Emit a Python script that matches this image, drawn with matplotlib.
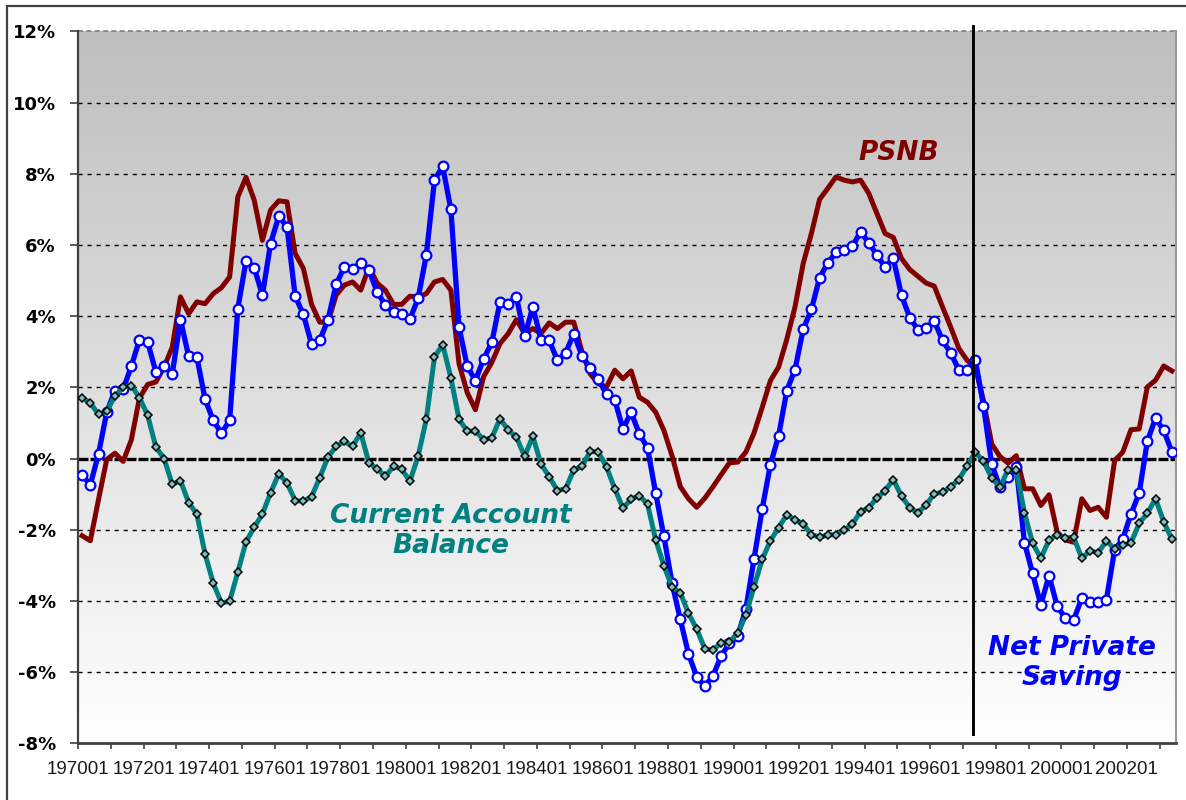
import matplotlib.pyplot as plt
import numpy as np
from matplotlib.patches import Rectangle
from matplotlib.colors import LinearSegmentedColormap

# Quarterly data, 1970Q1 - 2003Q2, % of GDP
psnb = [-2.17, -2.31, -1.15, -0.03, 0.15, -0.08, 0.52, 1.70, 2.08, 2.15,
        2.57, 3.13, 4.54, 4.07, 4.40, 4.35, 4.63, 4.80, 5.10, 7.35,
        7.90, 7.26, 6.13, 6.98, 7.24, 7.21, 5.76, 5.34, 4.33, 3.83,
        3.83, 4.59, 4.87, 4.96, 4.73, 5.38, 4.93, 4.73, 4.33, 4.33,
        4.56, 4.54, 4.63, 4.96, 5.03, 4.73, 2.66, 1.85, 1.37, 2.30,
        2.70, 3.23, 3.51, 3.90, 3.51, 3.65, 3.51, 3.81, 3.65, 3.83,
        3.83, 3.00, 2.38, 2.10, 2.01, 2.48, 2.24, 2.46, 1.72, 1.58,
        1.30, 0.79, 0.07, -0.79, -1.13, -1.37, -1.11, -0.79, -0.45, -0.12,
        -0.10, 0.18, 0.72, 1.44, 2.19, 2.57, 3.35, 4.26, 5.48, 6.32,
        7.28, 7.59, 7.91, 7.82, 7.77, 7.82, 7.45, 6.88, 6.32, 6.21,
        5.62, 5.31, 5.12, 4.93, 4.84, 4.26, 3.69, 3.09, 2.76, 2.57,
        1.62, 0.41, 0.06, -0.13, 0.08, -0.85, -0.85, -1.32, -1.02, -2.07,
        -2.29, -2.35, -1.13, -1.46, -1.37, -1.65, -0.06, 0.18, 0.81, 0.83,
        2.01, 2.20, 2.60, 2.46]

net_private_saving = [-0.46, -0.74, 0.13, 1.30, 1.91, 1.94, 2.59, 3.34, 3.27, 2.43,
                      2.59, 2.38, 3.90, 2.87, 2.85, 1.67, 1.07, 0.71, 1.07, 4.21,
                      5.55, 5.36, 4.59, 6.04, 6.81, 6.51, 4.56, 4.05, 3.21, 3.32,
                      3.90, 4.89, 5.38, 5.32, 5.49, 5.29, 4.68, 4.31, 4.11, 4.05,
                      3.91, 4.50, 5.71, 7.82, 8.21, 7.00, 3.69, 2.59, 2.19, 2.80,
                      3.26, 4.40, 4.35, 4.54, 3.43, 4.26, 3.34, 3.32, 2.76, 2.96,
                      3.51, 2.89, 2.55, 2.22, 1.80, 1.65, 0.83, 1.30, 0.69, 0.30,
                      -0.98, -2.19, -3.51, -4.52, -5.49, -6.13, -6.40, -6.10, -5.54, -5.19,
                      -4.98, -4.23, -2.82, -1.41, -0.17, 0.64, 1.91, 2.50, 3.63, 4.19,
                      5.08, 5.49, 5.79, 5.87, 5.96, 6.37, 6.06, 5.71, 5.38, 5.62,
                      4.58, 3.96, 3.62, 3.66, 3.86, 3.32, 2.96, 2.49, 2.49, 2.78,
                      1.48, -0.15, -0.81, -0.53, -0.23, -2.36, -3.23, -4.11, -3.29, -4.15,
                      -4.49, -4.54, -3.92, -4.03, -4.03, -3.97, -2.57, -2.26, -1.56, -0.98,
                      0.49, 1.13, 0.79, 0.18]

current_account = [1.71, 1.56, 1.24, 1.33, 1.75, 2.01, 2.05, 1.71, 1.21, 0.32,
                   0.00, -0.73, -0.62, -1.24, -1.56, -2.68, -3.50, -4.06, -4.01, -3.19,
                   -2.34, -1.93, -1.56, -0.96, -0.43, -0.69, -1.18, -1.20, -1.07, -0.54,
                   0.04, 0.34, 0.48, 0.34, 0.72, -0.12, -0.29, -0.50, -0.22, -0.30,
                   -0.64, 0.06, 1.10, 2.85, 3.20, 2.27, 1.10, 0.77, 0.77, 0.53,
                   0.58, 1.12, 0.80, 0.60, 0.06, 0.62, -0.15, -0.51, -0.90, -0.85,
                   -0.32, -0.22, 0.20, 0.18, -0.24, -0.85, -1.39, -1.14, -1.04, -1.28,
                   -2.29, -3.01, -3.62, -3.77, -4.35, -4.79, -5.35, -5.38, -5.17, -5.15,
                   -4.91, -4.40, -3.60, -2.83, -2.31, -1.94, -1.58, -1.72, -1.84, -2.14,
                   -2.21, -2.15, -2.14, -2.01, -1.84, -1.49, -1.38, -1.11, -0.90, -0.59,
                   -1.06, -1.38, -1.53, -1.30, -0.99, -0.95, -0.79, -0.59, -0.21, 0.18,
                   -0.08, -0.54, -0.81, -0.32, -0.32, -1.52, -2.38, -2.80, -2.29, -2.14,
                   -2.23, -2.21, -2.80, -2.59, -2.65, -2.31, -2.54, -2.43, -2.37, -1.82,
                   -1.54, -1.13, -1.78, -2.27]

tick_labels = ['197001', '197201', '197401', '197601', '197801', '198001',
               '198201', '198401', '198601', '198801', '199001', '199201',
               '199401', '199601', '199801', '200001', '200201']
y_ticks = [-8, -6, -4, -2, 0, 2, 4, 6, 8, 10, 12]

n = len(psnb)
x = np.arange(n)

fig = plt.figure(figsize=(11.86, 8.0), dpi=100)
ax = fig.add_axes([0.0658, 0.0709, 0.9258, 0.8899])

# gray-to-white gradient background
grad = np.linspace(0, 1, 256).reshape(-1, 1)
cmap = LinearSegmentedColormap.from_list('bg', ['#FFFFFF', '#BEBEBE'])
ax.imshow(grad, extent=[-0.5, n - 0.5, -8, 12], origin='lower', aspect='auto',
          cmap=cmap, zorder=0)

# gridlines
for yv in [-6, -4, -2, 2, 4, 6, 8, 10]:
    ax.axhline(yv, color='black', lw=1.0, ls=(0, (3, 3.5)), zorder=1)
ax.axhline(12, color='#808080', lw=1.2, ls=(0, (3, 2)), zorder=1, clip_on=False)
ax.axhline(0, color='black', lw=2.4, ls=(0, (3, 0.6)), zorder=1)

ax.plot(x, psnb, color='#800000', lw=3.6, zorder=3)
ax.plot(x, net_private_saving, color='#0000FF', lw=3.8, marker='o', ms=7,
        mfc='white', mec='#0000FF', mew=1.6, zorder=4)
ax.plot(x, current_account, color='#008080', lw=3.6, marker='D', ms=3.6,
        mfc='#7FBFBF', mec='black', mew=1.1, zorder=5)

# vertical marker line
ax.plot([108.74, 108.74], [12.15, -7.74], color='black', lw=2.1, zorder=6,
        clip_on=False)

ax.set_xlim(-0.5, n - 0.5)
ax.set_ylim(-8, 12)

ax.set_xticks(np.arange(-0.5, n - 1, 8))
ax.set_xticklabels(tick_labels, family='Liberation Sans', fontsize=13.5,
                   color='#1a1a1a')
ax.set_xticks(np.arange(3.5, n - 1, 8), minor=True)
ax.set_yticks(y_ticks)
ax.set_yticklabels([f'{v}%' for v in y_ticks], fontsize=13, fontweight='bold',
                   family='DejaVu Sans')

ax.tick_params(axis='x', which='both', direction='out', length=4.5, width=1.2,
               color='#404040', pad=8)
ax.tick_params(axis='y', direction='out', length=6, width=1.2, color='#404040',
               pad=10)

ax.spines['top'].set_visible(False)
ax.spines['left'].set_color('#404040')
ax.spines['left'].set_linewidth(1.6)
ax.spines['bottom'].set_color('#404040')
ax.spines['bottom'].set_linewidth(2.0)
ax.spines['right'].set_color('#999999')
ax.spines['right'].set_linewidth(1.5)

# series labels
ax.text(99.66, 8.59, 'PSNB', color='#800000', fontsize=19, fontweight='bold',
        fontstyle='italic', ha='center', va='center', zorder=7)
ax.text(44.96, -2.05, 'Current Account\nBalance', color='#008080', fontsize=19,
        fontweight='bold', fontstyle='italic', ha='center', va='center',
        linespacing=1.2, zorder=7)
ax.text(120.8, -5.75, 'Net Private\nSaving', color='#0000FF', fontsize=19,
        fontweight='bold', fontstyle='italic', ha='center', va='center',
        linespacing=1.2, zorder=7)

# outer chart border (left and top edges visible)
fig.add_artist(Rectangle((7 / 1186, -0.1), 1.2, (800 - 6) / 800 + 0.1,
                         transform=fig.transFigure, fill=False,
                         edgecolor='#404040', lw=1.6))

fig.savefig('out.png', dpi=100)
